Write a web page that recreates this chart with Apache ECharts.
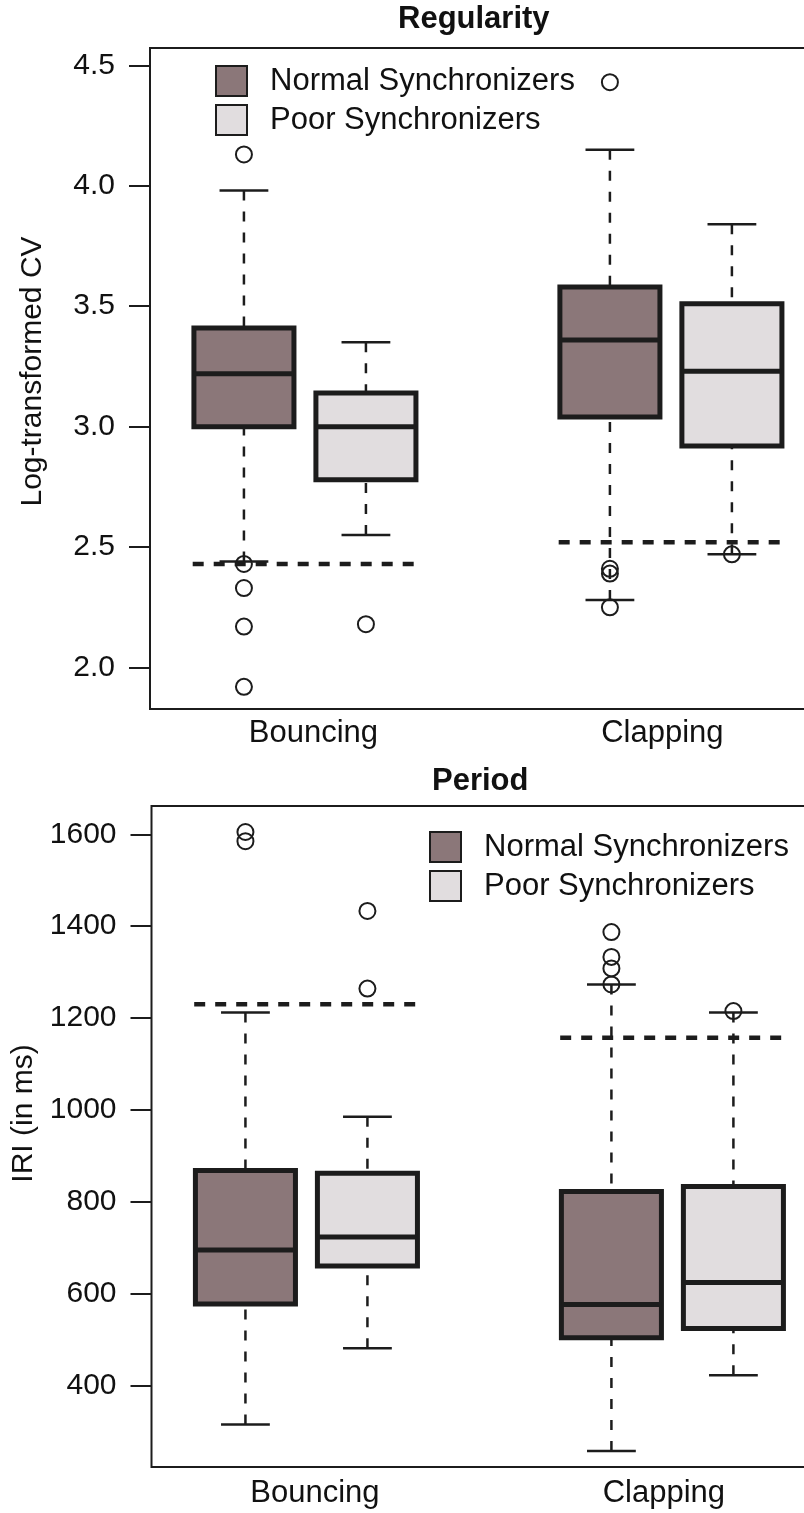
<!DOCTYPE html>
<html><head><meta charset="utf-8">
<script src="https://cdn.jsdelivr.net/npm/echarts@6/dist/echarts.min.js"></script>
<style>html,body{margin:0;padding:0;background:#fff}#c{width:804px;height:1513px}</style>
</head><body><div id="c"></div>
<script>
// ---------------- data ----------------
const categories = ['Bouncing', 'Clapping'];
const groupNames = ['Normal Synchronizers', 'Poor Synchronizers'];
// each box: [lower whisker, Q1, median, Q3, upper whisker]
const regNormal = [[2.44, 3.00, 3.22, 3.41, 3.98], [2.28, 3.04, 3.36, 3.58, 4.15]];
const regPoor   = [[2.55, 2.78, 3.00, 3.14, 3.35], [2.47, 2.92, 3.23, 3.51, 3.84]];
const regNormalOutliers = [[4.13, 2.43, 2.33, 2.17, 1.92], [4.43, 2.41, 2.39, 2.25]];
const regPoorOutliers   = [[2.18], [2.47]];
const regThreshold = [2.43, 2.52];
const regTicks = [2.0, 2.5, 3.0, 3.5, 4.0, 4.5];

const perNormal = [[315, 577, 695, 868, 1212], [257, 504, 576, 822, 1273]];
const perPoor   = [[481, 660, 723, 862, 985], [422, 524, 624, 833, 1212]];
const perNormalOutliers = [[1605, 1585], [1387, 1333, 1308, 1273]];
const perPoorOutliers   = [[1433, 1264], [1215]];
const perThreshold = [1230, 1157];
const perTicks = [400, 600, 800, 1000, 1200, 1400, 1600];

// ---------------- style / layout ----------------
const INK = '#1c1c1c';
const TXT = '#111111';
const FONT = '"Liberation Sans", Arial, Helvetica, sans-serif';
const FILLS = ['#8b7779', '#e1dddf'];
const BOX_HALF = 0.41, CAP_HALF = 0.2, THR_EXT = 0.42;
const labelPos = [1.57, 4.43];
function pos(i, g) { return 1 + 3 * i + g; }

function renderBox(params, api) {
  const x = api.value(0);
  const p = [1, 2, 3, 4, 5].map(d => api.coord([x, api.value(d)]));
  const cx = p[0][0];
  const hw = api.size([BOX_HALF, 0])[0];
  const cw = api.size([CAP_HALF, 0])[0];
  const dash = {stroke: INK, lineWidth: 2.5, lineDash: [10, 11]};
  const solid = {stroke: INK, lineWidth: 2.5};
  return {
    type: 'group',
    children: [
      {type: 'line', shape: {x1: cx, y1: p[4][1], x2: cx, y2: p[3][1]}, style: dash},
      {type: 'line', shape: {x1: cx, y1: p[0][1], x2: cx, y2: p[1][1]}, style: dash},
      {type: 'line', shape: {x1: cx - cw, y1: p[4][1], x2: cx + cw, y2: p[4][1]}, style: solid},
      {type: 'line', shape: {x1: cx - cw, y1: p[0][1], x2: cx + cw, y2: p[0][1]}, style: solid},
      {type: 'rect', shape: {x: cx - hw, y: p[3][1], width: 2 * hw, height: p[1][1] - p[3][1]},
        style: {fill: api.visual('color'), stroke: INK, lineWidth: 5}},
      {type: 'line', shape: {x1: cx - hw, y1: p[2][1], x2: cx + hw, y2: p[2][1]}, style: {stroke: INK, lineWidth: 5}}
    ]
  };
}

function boxSeries(g, stats, gi) {
  return {
    type: 'custom', name: groupNames[g], xAxisIndex: gi, yAxisIndex: gi,
    itemStyle: {color: FILLS[g]}, silent: true, z: 2,
    encode: {x: 0, y: [1, 2, 3, 4, 5]},
    data: stats.map((s, i) => [pos(i, g)].concat(s)),
    renderItem: renderBox
  };
}
function outlierSeries(g, outs, gi) {
  const data = [];
  outs.forEach((arr, i) => arr.forEach(v => data.push([pos(i, g), v])));
  return {
    type: 'scatter', name: 'out' + gi + g, xAxisIndex: gi, yAxisIndex: gi, data,
    symbol: 'circle', symbolSize: 16, silent: true, z: 3,
    itemStyle: {color: 'rgba(255,255,255,0)', borderColor: INK, borderWidth: 2, opacity: 1}
  };
}
function thresholdSeries(vals, gi) {
  return vals.map((v, i) => ({
    type: 'line', name: 'thr' + gi + i, xAxisIndex: gi, yAxisIndex: gi, silent: true, z: 4,
    symbol: 'none', data: [[pos(i, 0) - THR_EXT, v], [pos(i, 1) + THR_EXT, v]],
    lineStyle: {color: INK, width: 4.5, type: [11, 10]}
  }));
}

function xAxis(gi, margin) {
  return {
    type: 'value', gridIndex: gi, min: 0.23, max: 5.8,
    axisLine: {show: false}, axisTick: {show: false}, splitLine: {show: false},
    axisLabel: {
      customValues: labelPos, margin: margin, fontSize: 31, color: TXT, fontFamily: FONT,
      formatter: v => categories[labelPos.indexOf(v)] || ''
    }
  };
}
function yAxis(gi, min, max, ticks, fmt, name, gap, shift) {
  return {
    type: 'value', gridIndex: gi, min, max,
    name, nameLocation: 'middle', nameGap: gap,
    nameTextStyle: {fontSize: 30, color: TXT, fontFamily: FONT, padding: [0, 0, 0, shift]},
    axisLine: {show: false}, splitLine: {show: false},
    axisTick: {show: true, customValues: ticks, length: 21, lineStyle: {color: INK, width: 2}},
    axisLabel: {customValues: ticks, formatter: fmt, margin: 35, fontSize: 30, color: TXT, fontFamily: FONT}
  };
}
function legend(left, top) {
  return {
    left, top, orient: 'vertical', itemWidth: 31, itemHeight: 30, itemGap: 7, selectedMode: false,
    textStyle: {fontSize: 31, color: TXT, fontFamily: FONT, padding: [0, 0, 0, 18], lineHeight: 30},
    data: groupNames.map((n, g) => ({name: n, icon: 'rect',
      itemStyle: {color: FILLS[g], borderColor: INK, borderWidth: 2}}))
  };
}

const chart = echarts.init(document.getElementById('c'), null, {renderer: 'canvas'});
chart.setOption({
  animation: false,
  backgroundColor: '#ffffff',
  title: [
    {text: 'Regularity', left: 398, top: 4, padding: 0,
      textStyle: {fontSize: 31, fontWeight: 'bold', color: TXT, fontFamily: FONT}},
    {text: 'Period', left: 432, top: 766, padding: 0,
      textStyle: {fontSize: 31, fontWeight: 'bold', color: TXT, fontFamily: FONT}}
  ],
  legend: [legend(210, 60), legend(424, 826)],
  grid: [
    {left: 150, top: 48, width: 679.5, height: 661, show: true, borderColor: INK, borderWidth: 2,
      outerBoundsMode: 'none', containLabel: false},
    {left: 151.5, top: 806, width: 679.5, height: 661, show: true, borderColor: INK, borderWidth: 2,
      outerBoundsMode: 'none', containLabel: false}
  ],
  xAxis: [xAxis(0, 9), xAxis(1, 11)],
  yAxis: [
    yAxis(0, 1.828, 4.572, regTicks, v => v.toFixed(1), 'Log-transformed CV', 102, 14),
    yAxis(1, 222.3, 1661.6, perTicks, v => String(v), 'IRI (in ms)', 107, 46)
  ],
  series: [
    boxSeries(0, regNormal, 0), boxSeries(1, regPoor, 0),
    outlierSeries(0, regNormalOutliers, 0), outlierSeries(1, regPoorOutliers, 0),
    ...thresholdSeries(regThreshold, 0),
    boxSeries(0, perNormal, 1), boxSeries(1, perPoor, 1),
    outlierSeries(0, perNormalOutliers, 1), outlierSeries(1, perPoorOutliers, 1),
    ...thresholdSeries(perThreshold, 1)
  ]
});
</script></body></html>
